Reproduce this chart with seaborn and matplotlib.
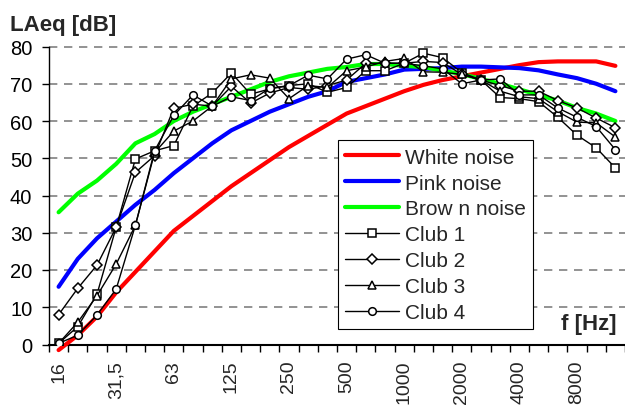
import numpy as np
import matplotlib
matplotlib.use("Agg")
import matplotlib.pyplot as plt
import seaborn as sns

# third-octave bands, 16 Hz .. 12.5 kHz
bands = ["16", "20", "25", "31,5", "40", "50", "63", "80", "100", "125",
         "160", "200", "250", "315", "400", "500", "630", "800", "1000", "1250",
         "1600", "2000", "2500", "3150", "4000", "5000", "6300", "8000", "10000", "12500"]
shown_labels = ["16", "31,5", "63", "125", "250", "500", "1000", "2000", "4000", "8000"]

white_noise = [-1.5, 2.5, 7.5, 14, 19.5, 25, 30.5, 34.5, 38.5, 42.5,
               46, 49.5, 53, 56, 59, 62, 64, 66, 68, 69.7,
               71, 72, 73, 74, 75, 75.8, 76, 76, 76, 74.8]
pink_noise = [15.5, 23, 28.5, 33, 37.5, 41.5, 46, 50, 54, 57.5,
              60, 62.5, 64.5, 66.5, 68, 70.5, 71.5, 72.5, 73.8, 74,
              74.2, 74.6, 74.6, 74.4, 74.2, 73.6, 72.5, 71.5, 70, 68]
brown_noise = [35.5, 40.5, 44, 48.5, 54, 56.5, 60, 62.5, 64.5, 66.5,
               68.5, 70.5, 72, 73, 74, 74.5, 75.3, 75.3, 74.8, 74.5,
               73.5, 72.6, 71.3, 70, 68.5, 67, 65.5, 63.5, 62, 60]
club1 = [0.3, 4.8, 13.5, 31.5, 49.8, 52, 53.4, 64, 67.5, 72.9,
         67.2, 68.6, 69.5, 70, 67.7, 69, 73.5, 73.5, 75.5, 78.2,
         77, 73, 71, 66.3, 66, 65.2, 61, 56.2, 52.8, 47.4]
club2 = [8, 15.1, 21.3, 31.5, 46.2, 50.7, 63.4, 64.5, 64, 69.3,
         64.8, 67.5, 69, 68.5, 69.5, 71, 75.5, 75.5, 75.5, 76,
         75.7, 72.5, 71, 69.5, 68, 68, 65.5, 63.5, 60.8, 58.2]
club3 = [0.3, 6, 13.1, 21.6, 32, 51.5, 57.3, 60, 64, 71.3,
         72.4, 71.5, 66, 69.5, 69, 73.5, 74.5, 76, 76.8, 73.2,
         73.1, 72.5, 71, 68, 66.5, 66, 62.5, 59.7, 59.5, 55.7]
club4 = [0.3, 2.5, 7.9, 14.9, 32, 52, 61.5, 67, 64, 66.5,
         65.5, 68.8, 69.5, 72.3, 71.3, 76.6, 77.8, 75.5, 75.5, 74.8,
         74, 70, 71, 71.3, 67, 67, 63.5, 61, 58.5, 52.3]

sns.set_style("white")
plt.rcParams['font.family'] = ['Liberation Sans', 'DejaVu Sans']

fig = plt.figure(figsize=(6.25, 4.1), dpi=100)
ax = fig.add_axes([49 / 625, (410 - 345.5) / 410, 576 / 625, 298 / 410])

x = np.arange(len(bands))

# noise references
for vals, col, name in [(white_noise, "#ff0000", "White noise"),
                        (pink_noise, "#0000ff", "Pink noise"),
                        (brown_noise, "#00ff00", "Brow n noise")]:
    sns.lineplot(x=x, y=vals, color=col, linewidth=3, label=name,
                 legend=False, ax=ax, clip_on=False, zorder=3)

# measured clubs
for vals, mk, name in [(club1, "s", "Club 1"), (club2, "D", "Club 2"),
                       (club3, "^", "Club 3"), (club4, "o", "Club 4")]:
    ms = 5 if mk == "D" else 5.5
    sns.lineplot(x=x, y=vals, color="black", linewidth=1.0, marker=mk,
                 markersize=ms, markerfacecolor="white", markeredgecolor="black",
                 markeredgewidth=1.1, label=name, legend=False, ax=ax, zorder=4)

ax.set_xlim(-0.5, len(bands) - 0.5)
ax.set_ylim(0, 80)
ax.set_yticks(range(0, 81, 10))
ax.tick_params(axis="y", labelsize=14.5, length=5, width=1, direction="out",
               left=True, pad=7, colors="black")
ax.set_xticks([bands.index(b) for b in shown_labels])
ax.set_xticklabels(shown_labels, rotation=90, fontsize=14)
ax.set_xticks(np.arange(-0.5, len(bands), 1), minor=True)
ax.tick_params(axis="x", which="major", length=0, pad=11)
ax.tick_params(axis="x", which="minor", length=5, width=1, direction="out",
               bottom=True, color="black")

ax.yaxis.grid(True, color="#808080", linestyle=(0, (5, 4)), linewidth=1.2)
for gl in ax.get_ygridlines():
    gl.set_clip_on(False)
ax.xaxis.grid(False)

for side in ["top", "right"]:
    ax.spines[side].set_visible(False)
ax.spines["left"].set_color("black")
ax.spines["left"].set_linewidth(1.0)
ax.spines["bottom"].set_color("black")
ax.spines["bottom"].set_linewidth(1.5)

leg = ax.legend(loc="upper left", bbox_to_anchor=(0.501, 0.685), borderaxespad=0,
                fontsize=15, frameon=True, fancybox=False, shadow=False,
                handlelength=2.6, handletextpad=0.3, labelspacing=0.33,
                borderpad=0.35)
leg.get_frame().set_edgecolor("black")
leg.get_frame().set_linewidth(0.8)
leg.get_frame().set_alpha(1)

fig.text(0.016, 0.925, "LAeq [dB]", fontsize=16, fontweight="bold", ha="left")
ax.text(0.986, 0.035, "f [Hz]", transform=ax.transAxes, fontsize=16,
        fontweight="bold", ha="right", va="bottom")

fig.savefig("out.png", dpi=100)
